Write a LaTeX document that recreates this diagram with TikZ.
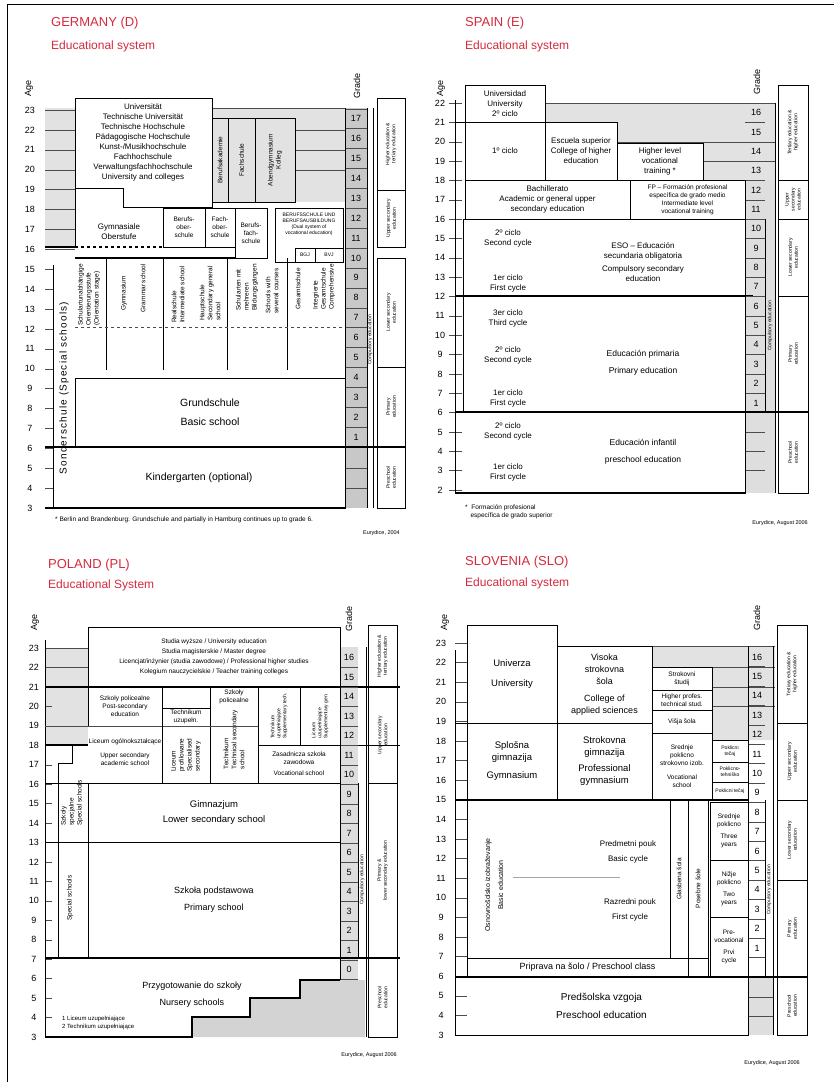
\documentclass[tikz,border=0pt]{standalone}
\usepackage{fontspec}
\setmainfont{Liberation Sans}
\usetikzlibrary{calc}
\definecolor{titlered}{RGB}{214,42,62}
\definecolor{bandgray}{RGB}{226,226,226}
\definecolor{gradegray}{RGB}{200,200,200}
% box with centred text: [style]{name}{x1}{y1}{x2}{y2}{text}
\newcommand{\edubox}[7][txtmid]{\draw[boxline] (#3,#4) rectangle (#5,#6);
  \node[#1] (#2) at ({(#3+#5)/2},{(#4+#6)/2}) {#7};}

\begin{document}
\begin{tikzpicture}[x=1pt, y=-1pt,
  boxline/.style={line width=0.7pt},
  thickline/.style={line width=1.4pt},
  gridline/.style={line width=0.4pt, black!70},
  ctitle/.style={anchor=west, text=titlered, font=\fontsize{13}{15}\selectfont, inner sep=0pt},
  csub/.style={anchor=west, text=titlered, font=\fontsize{12}{14}\selectfont, inner sep=0pt},
  agehead/.style={rotate=90, font=\fontsize{9}{10}\selectfont, inner sep=0pt},
  agenum/.style={font=\fontsize{9}{10}\selectfont, inner sep=0pt},
  txtbig/.style={font=\fontsize{10.5}{19}\selectfont, align=center, inner sep=0pt},
  txtmid/.style={font=\fontsize{8}{10}\selectfont, align=center, inner sep=0pt},
  txtsmall/.style={font=\fontsize{6.5}{8}\selectfont, align=center, inner sep=0pt},
  txttiny/.style={font=\fontsize{5}{6}\selectfont, align=center, inner sep=0pt},
  vsmall/.style={txtsmall, rotate=90},
  vtiny/.style={txttiny, rotate=90},
  note/.style={font=\fontsize{6.5}{8}\selectfont, anchor=west, align=left, inner sep=0pt},
  src/.style={font=\fontsize{5.5}{6}\selectfont, anchor=east, inner sep=0pt}]
  \useasboundingbox (0,0) rectangle (834,1082);
  \fill[white] (0,0) rectangle (834,1082);
  \draw[boxline] (7,1082) -- (7,4) -- (834,4);

  % ================= GERMANY (D) =================
  \node[ctitle] (de-title) at (51,23) {GERMANY (D)};
  \node[csub] (de-sub) at (51,46) {Educational system};
  \node[agehead] (de-age) at (29,88) {Age};
  \fill[bandgray] (45,108) rectangle (75,247);
  \fill[bandgray] (212,108) rectangle (345,202);
  \fill[gradegray] (345,108) rectangle (367,508);
  \foreach \a in {3,...,23}
    \node[agenum] (de-a\a) at (30,{508-(\a-3)*19.9}) {\a};
  \foreach \a in {16,...,23}
    \draw[gridline] (45,{508-(\a-3)*19.9}) -- (75,{508-(\a-3)*19.9});
  \foreach \a in {4,...,15}
    \draw[gridline] (45,{508-(\a-3)*19.9}) -- (53,{508-(\a-3)*19.9});
  \foreach \a in {20,21,22}
    \draw[gridline] (295,{508-(\a-3)*19.9}) -- (345,{508-(\a-3)*19.9});
  \draw[gridline] (212,108) -- (345,108);
  % tertiary
  \draw[boxline] (75,98) -- (212,98) -- (212,207) -- (123,207) -- (123,188) -- (75,188) -- cycle;
  \node[txtmid] (de-uni) at (143,142) {Universität\\Technische Universität\\Technische Hochschule\\Pädagogische Hochschule\\Kunst-/Musikhochschule\\Fachhochschule\\Verwaltungsfachhochschule\\University and colleges};
  \edubox[vsmall]{de-ba}{212}{118}{228}{202}{Berufsakademie}
  \edubox[vsmall]{de-fs}{228}{118}{255}{202}{Fachschule}
  \edubox[vsmall]{de-ag}{255}{118}{295}{202}{Abendgymnasium\\Kolleg}
  % upper secondary
  \draw[boxline] (75,188) -- (75,247);
  \node[txtmid] (de-go) at (119,232) {Gymnasiale\\Oberstufe};
  \edubox[txtsmall]{de-bos}{163}{208}{205}{247}{Berufs-\\ober-\\schule}
  \edubox[txtsmall]{de-fos}{205}{208}{235}{247}{Fach-\\ober-\\schule}
  \edubox[txtsmall]{de-bfs}{235}{208}{267}{258}{Berufs-\\fach-\\schule}
  \edubox[txttiny]{de-dual}{275}{208}{343}{262}{}
  \node[txttiny] (de-dual-t) at (309,224) {BERUFSSCHULE UND\\BERUFSAUSBILDUNG\\(Dual system of\\vocational education)};
  \edubox[txttiny]{de-bgj}{295}{248}{315}{262}{BGJ}
  \edubox[txttiny]{de-bvj}{315}{248}{343}{262}{BVJ}
  \draw[thickline] (45,247) -- (75,247);
  \draw[thickline, dashed] (75,247) -- (163,247);
  \draw[thickline] (75,258) -- (235,258);
  % lower secondary
  \foreach \x in {106,163,227,287}
    \draw[boxline] (\x,258) -- (\x,370);
  \draw[gridline, dashed] (75,327) -- (345,327);
  \node[vsmall, anchor=east, align=left] (de-os) at (89,264) {Schulartunabhängige\\Orientierungsstufe\\(Orientation stage)};
  \node[vsmall, anchor=east] (de-gy1) at (124,276) {Gymnasium};
  \node[vsmall, anchor=east] (de-gy2) at (143,264) {Grammar school};
  \node[vsmall, anchor=east, align=left] (de-rs) at (178,266) {Realschule\\Intermediate school};
  \node[vsmall, anchor=east, align=left] (de-hs) at (210,266) {Hauptschule\\Secondary general\\school};
  \node[vsmall, anchor=east, align=left] (de-sm) at (247,264) {Schularten mit\\mehreren\\Bildungsgängen};
  \node[vsmall, anchor=east, align=left] (de-sw) at (272,268) {Schools with\\several courses};
  \node[vsmall, anchor=east] (de-ge1) at (298,268) {Gesamtschule};
  \node[vsmall, anchor=east, align=left] (de-ge2) at (324,264) {Integrierte\\Gesamtschule\\Comprehensive};
  % special schools
  \draw[boxline] (53,265) -- (53,508);
  \node[vsmall, font=\fontsize{10}{12}\selectfont\addfontfeatures{LetterSpace=12}] (de-sond) at (64,388) {Sonderschule (Special schools)};
  % primary and pre-school
  \edubox[txtbig]{de-gs}{75}{378}{345}{447}{Grundschule\\Basic school}
  \edubox[txtbig]{de-kg}{53}{447}{345}{508}{Kindergarten (optional)}
  \draw[thickline] (45,447) -- (406,447);
  \draw[thickline] (45,508) -- (345,508);
  % grades
  \foreach \g in {1,...,17}{
    \draw[gridline] (345,{447-\g*19.9}) -- (367,{447-\g*19.9});
    \node[agenum] (de-g\g) at (356,{447-(\g-0.5)*19.9}) {\g};}
  \draw[gridline] (345,468) -- (367,468) (345,488) -- (367,488);
  \draw[boxline] (345,108) -- (345,508) (367,108) -- (367,508) (373,108) -- (373,508);
  \node[vtiny] (de-comp) at (370,340) {Compulsory education};
  \node[agehead] (de-grade) at (357,86) {Grade};
  % levels
  \edubox[vtiny]{de-l1}{377}{98}{405}{190}{Higher education \&\\tertiary education}
  \edubox[vtiny]{de-l2}{377}{190}{405}{247}{Upper secondary\\education}
  \edubox[vtiny]{de-l3}{377}{258}{405}{367}{Lower secondary\\education}
  \edubox[vtiny]{de-l4}{377}{367}{405}{447}{Primary\\education}
  \edubox[vtiny]{de-l5}{377}{447}{405}{508}{Preschool\\education}
  \node[note] (de-note) at (55,520) {* Berlin and Brandenburg: Grundschule and partially in Hamburg continues up to grade 6.};
  \node[src] (de-src) at (400,533) {Eurydice, 2004};

  % ================= SPAIN (E) =================
  \node[ctitle] (es-title) at (465,23) {SPAIN (E)};
  \node[csub] (es-sub) at (465,46) {Educational system};
  \node[agehead] (es-age) at (441,88) {Age};
  \fill[bandgray] (545,103) rectangle (775,122) (617,122) rectangle (775,143) (703,143) rectangle (775,180);
  \fill[gradegray!60] (745,180) rectangle (775,493);
  \foreach \a in {2,...,22}{
    \node[agenum] (es-a\a) at (440,{103+(22-\a)*19.35}) {\a};
    \draw[gridline] (449,{103+(22-\a)*19.35}) -- (462,{103+(22-\a)*19.35});}
  \draw[boxline] (455,100) -- (455,493);
  \draw[gridline] (545,103) -- (775,103) (617,142) -- (775,142) (703,161) -- (775,161);
  \draw[boxline] (455,122) -- (617,122);
  % tertiary
  \edubox{es-uni}{465}{85}{545}{122}{Universidad\\University\\2º ciclo}
  \edubox{es-uni1}{465}{122}{545}{180}{1º ciclo}
  \edubox{es-esc}{545}{122}{617}{180}{Escuela superior\\College of higher\\education}
  \edubox{es-fps}{617}{143}{703}{180}{Higher level\\vocational\\training *}
  % upper secondary
  \edubox{es-bach}{465}{180}{630}{219}{Bachillerato\\Academic or general upper\\secondary education}
  \edubox[txtsmall]{es-fpm}{630}{180}{745}{219}{FP -- Formación profesional\\específica de grado medio\\Intermediate level\\vocational training}
  % compulsory secondary, primary, infant
  \edubox{es-eso}{463}{219}{745}{296}{}
  \node[txtmid] (es-eso-t) at (643,262) {ESO -- Educación\\secundaria obligatoria\\[3pt]Compulsory secondary\\education};
  \node[txtmid] (es-eso2) at (508,238) {2º ciclo\\Second cycle};
  \node[txtmid] (es-eso1) at (508,283) {1er ciclo\\First cycle};
  \edubox{es-pri}{463}{296}{745}{412}{}
  \node[txtbig, font=\fontsize{8.5}{17}\selectfont] (es-pri-t) at (643,363) {Educación primaria\\Primary education};
  \node[txtmid] (es-pri3) at (508,318) {3er ciclo\\Third cycle};
  \node[txtmid] (es-pri2) at (508,355) {2º ciclo\\Second cycle};
  \node[txtmid] (es-pri1) at (508,398) {1er ciclo\\First cycle};
  \edubox{es-inf}{455}{412}{745}{493}{}
  \node[txtbig, font=\fontsize{8.5}{17}\selectfont] (es-inf-t) at (643,452) {Educación infantil\\preschool education};
  \node[txtmid] (es-inf2) at (508,431) {2º ciclo\\Second cycle};
  \node[txtmid] (es-inf1) at (508,472) {1er ciclo\\First cycle};
  \draw[thickline] (455,296) -- (753,296) (455,412) -- (808,412) (455,493) -- (745,493);
  % grades
  \foreach \g in {1,...,16}{
    \draw[gridline] (745,{103+(16-\g)*19.35}) -- (765,{103+(16-\g)*19.35});
    \node[agenum] (es-g\g) at (756,{103+(16.5-\g)*19.35}) {\g};}
  \draw[gridline] (745,432) -- (765,432) (745,451) -- (765,451) (745,470) -- (765,470);
  \draw[boxline] (745,180) -- (745,493) (775,103) -- (775,493) (765,219) -- (765,412);
  \node[vtiny] (es-comp) at (770,326) {Compulsory education};
  \node[agehead] (es-grade) at (757,82) {Grade};
  % levels
  \edubox[vtiny]{es-l1}{778}{85}{808}{180}{Tertiary education \&\\higher education}
  \edubox[vtiny]{es-l2}{778}{180}{808}{219}{Upper\\secondary\\education}
  \edubox[vtiny]{es-l3}{778}{219}{808}{296}{Lower secondary\\education}
  \edubox[vtiny]{es-l4}{778}{296}{808}{412}{Primary\\education}
  \edubox[vtiny]{es-l5}{778}{412}{808}{493}{Preschool\\education}
  \node[note] (es-note) at (465,512) {*\ \ Formación profesional\\\ \ \ específica de grado superior};
  \node[src] (es-src) at (808,523) {Eurydice, August 2006};

  % ================= POLAND (PL) =================
  \node[ctitle] (pl-title) at (48,565) {POLAND (PL)};
  \node[csub] (pl-sub) at (48,585) {Educational System};
  \node[agehead] (pl-age) at (35,622) {Age};
  \fill[bandgray] (45,648) rectangle (88,745);
  \fill[gradegray!60] (340,647) rectangle (358,979);
  \foreach \a in {3,...,23}{
    \node[agenum] (pl-a\a) at (34,{1037-(\a-3)*19.45}) {\a};
    \draw[gridline] (45,{1037-(\a-3)*19.45}) -- (52,{1037-(\a-3)*19.45});}
  \foreach \a in {22,23,19}
    \draw[gridline] (45,{1037-(\a-3)*19.45}) -- (88,{1037-(\a-3)*19.45});
  \draw[boxline] (45,640) -- (45,1037);
  % tertiary
  \edubox[txtsmall]{pl-uni}{88}{627}{340}{687}{Studia wyższe / University education\\[2pt]Studia magisterskie / Master degree\\[2pt]Licencjat/inżynier (studia zawodowe) / Professional higher studies\\[2pt]Kolegium nauczycielskie / Teacher training colleges}
  \draw[thickline] (45,687) -- (400,687);
  % post-secondary
  \edubox[txtsmall]{pl-pol}{88}{687}{162}{726}{Szkoły policealne\\Post-secondary\\education}
  \edubox[txtsmall]{pl-tu}{162}{708}{210}{726}{Technikum\\uzupełn.}
  \draw[boxline] (210,687) -- (210,783) (258,687) -- (258,783) (300,687) -- (300,745);
  \node[txtsmall] (pl-sp) at (234,697) {Szkoły\\policealne};
  \node[vsmall, anchor=east, align=left] (pl-tech) at (234,710) {Technikum\\Technical secondary\\school};
  \node[vtiny, align=left] (pl-tu2) at (279,716) {Technikum\\uzupełniające\\Supplementary tech.};
  \node[vtiny, align=left] (pl-lu) at (320,716) {Liceum\\uzupełniające\\Supplementary gen.};
  % upper secondary
  \draw[gridline] (45,726) -- (258,726);
  \node[txtsmall] (pl-lo) at (125,752) {Liceum ogólnokształcące\\[6pt]Upper secondary\\academic school};
  \node[vsmall, align=left] (pl-lp) at (186,755) {Liceum\\profilowane\\Specialised\\secondary};
  \draw[boxline] (162,726) -- (162,783);
  \edubox[txtsmall]{pl-zsz}{258}{745}{340}{783}{Zasadnicza szkoła\\zawodowa\\[3pt]Vocational school}
  \draw[thickline] (45,745) -- (88,745);
  \draw[boxline] (258,745) -- (400,745);
  % special schools
  \draw[boxline] (72,745) -- (72,763) -- (58,763) -- (58,958);
  \node[vsmall, align=left] (pl-ss1) at (72,803) {Szkoły\\specjalne\\Special schools};
  \node[vsmall] (pl-ss2) at (70,898) {Special schools};
  % gimnazjum and primary
  \edubox[txtbig, font=\fontsize{9.5}{15}\selectfont]{pl-gim}{88}{783}{340}{842}{Gimnazjum\\Lower secondary school}
  \edubox[txtbig, font=\fontsize{9}{17}\selectfont]{pl-sp2}{88}{842}{340}{958}{Szkoła podstawowa\\Primary school}
  \draw[boxline] (45,783) -- (88,783) (45,842) -- (88,842);
  \draw[thickline] (45,958) -- (400,958);
  % pre-school steps
  \fill[gradegray!80] (192,1037) -- (192,1017) -- (250,1017) -- (250,998) -- (300,998) -- (300,980) -- (365,980) -- (365,1037) -- cycle;
  \draw[thickline] (45,1037) -- (192,1037) -- (192,1017) -- (250,1017) -- (250,998) -- (300,998) -- (300,980) -- (340,980);
  \node[txtbig, font=\fontsize{9}{17}\selectfont] (pl-pre) at (192,995) {Przygotowanie do szkoły\\Nursery schools};
  \node[note, font=\fontsize{6}{7.5}\selectfont] (pl-key) at (62,1023) {1 Liceum uzupełniające\\2 Technikum uzupełniające};
  % grades
  \foreach \g in {0,...,16}{
    \draw[gridline] (340,{979.5-\g*19.5}) -- (358,{979.5-\g*19.5});
    \node[agenum] (pl-g\g) at (349,{969.75-\g*19.5}) {\g};}
  \draw[boxline] (340,647) -- (340,980) (358,783) -- (358,958) (366,647) -- (366,1037);
  \node[vtiny] (pl-comp) at (362,880) {Compulsory education};
  \node[agehead] (pl-grade) at (349,619) {Grade};
  % levels
  \edubox[vtiny]{pl-l1}{368}{625}{397}{687}{Higher education \&\\tertiary education}
  \edubox[vtiny]{pl-l2}{368}{687}{397}{783}{Upper secondary\\education}
  \edubox[vtiny]{pl-l3}{368}{783}{397}{958}{Primary \&\\lower secondary education}
  \edubox[vtiny]{pl-l4}{368}{958}{397}{1037}{Preschool\\education}
  \node[src] (pl-src) at (397,1055) {Eurydice, August 2006};

  % ================= SLOVENIA (SLO) =================
  \node[ctitle] (si-title) at (465,562) {SLOVENIA (SLO)};
  \node[csub] (si-sub) at (465,583) {Educational system};
  \node[agehead] (si-age) at (445,622) {Age};
  \fill[bandgray] (652,646) rectangle (775,667) (712,667) rectangle (775,740);
  \fill[gradegray!60] (748,977) rectangle (773,1035);
  \foreach \a in {3,...,23}{
    \node[agenum] (si-a\a) at (441,{1035-(\a-3)*19.6}) {\a};
    \draw[gridline] (455,{1035-(\a-3)*19.6}) -- (467,{1035-(\a-3)*19.6});}
  \draw[boxline] (455,650) -- (455,1035);
  \draw[gridline] (652,646) -- (775,646) (712,667) -- (775,667) (712,687) -- (775,687) (712,706) -- (775,706);
  % tertiary
  \edubox[txtbig, font=\fontsize{9.5}{20}\selectfont]{si-uni}{467}{625}{557}{723}{Univerza\\University}
  \edubox[txtbig, font=\fontsize{9}{12}\selectfont]{si-vss}{557}{646}{652}{723}{Visoka\\strokovna\\šola\\[5pt]College of\\applied sciences}
  \edubox[txtsmall]{si-st}{652}{667}{712}{690}{Strokovni\\študij}
  \edubox[txtsmall]{si-hp}{652}{690}{712}{710}{Higher profes.\\technical stud.}
  \edubox[txtsmall]{si-vs}{652}{710}{712}{733}{Višja šola}
  % upper secondary
  \edubox[txtbig, font=\fontsize{9.5}{12}\selectfont]{si-sg}{467}{723}{557}{800}{Splošna\\gimnazija\\[6pt]Gymnasium}
  \edubox[txtbig, font=\fontsize{9.5}{12}\selectfont]{si-pg}{557}{723}{652}{800}{Strokovna\\gimnazija\\[4pt]Professional\\gymnasium}
  \edubox[txtsmall]{si-sp}{652}{733}{712}{800}{Srednje\\poklicno\\strokovno izob.\\[6pt]Vocational\\school}
  \edubox[txttiny]{si-pt}{712}{740}{748}{762}{Poklicni\\tečaj}
  \edubox[txttiny]{si-ptl}{712}{762}{748}{782}{Poklicno-\\tehniško}
  \edubox[txttiny]{si-pk}{712}{782}{748}{800}{Poklicni tečaj}
  \draw[boxline] (455,723) -- (652,723);
  \draw[thickline] (455,800) -- (748,800);
  % basic school
  \edubox{si-os}{467}{800}{670}{958}{}
  \node[vsmall, font=\fontsize{7}{13}\selectfont] (si-os-t) at (494,885) {Osnovnošolsko izobraževanje\\Basic education};
  \node[txtmid, font=\fontsize{8}{15}\selectfont] (si-pp) at (628,852) {Predmetni pouk\\Basic cycle};
  \node[txtmid, font=\fontsize{8}{15}\selectfont] (si-rp) at (630,910) {Razredni pouk\\First cycle};
  \draw[gridline, black!35] (513,877) -- (620,877);
  \edubox[vsmall]{si-gl}{670}{800}{688}{958}{Glasbena šola}
  \edubox[vsmall]{si-ps}{688}{800}{708}{977}{Posebne šole}
  \edubox[txtsmall]{si-sp3}{710}{802}{748}{860}{Srednje\\poklicno\\[4pt]Three\\years}
  \edubox[txtsmall]{si-np}{710}{860}{748}{917}{Nižje\\poklicno\\[4pt]Two\\years}
  \edubox[txtsmall]{si-pv}{710}{917}{748}{977}{Pre-\\vocational\\[4pt]Prvi\\cycle}
  % pre-school
  \edubox[txtmid, font=\fontsize{9}{10}\selectfont]{si-prip}{467}{958}{708}{977}{Priprava na šolo / Preschool class}
  \edubox[txtbig, font=\fontsize{10}{18}\selectfont]{si-pre}{455}{977}{748}{1035}{Predšolska vzgoja\\Preschool education}
  \draw[thickline] (455,977) -- (808,977);
  % grades
  \foreach \g in {1,...,16}{
    \draw[gridline] (748,{977-\g*19.4}) -- (765,{977-\g*19.4});
    \node[agenum] (si-g\g) at (757,{967.3-\g*19.4}) {\g};}
  \draw[gridline] (748,997) -- (773,997) (748,1016) -- (773,1016);
  \draw[boxline] (748,646) -- (748,1035) (773,646) -- (773,1035) (765,800) -- (765,977);
  \node[vtiny] (si-comp) at (769,890) {Compulsory education};
  \node[agehead] (si-grade) at (757,618) {Grade};
  % levels
  \edubox[vtiny]{si-l1}{777}{625}{807}{723}{Tertiary education \&\\higher education}
  \edubox[vtiny]{si-l2}{777}{723}{807}{800}{Upper secondary\\education}
  \edubox[vtiny]{si-l3}{777}{800}{807}{880}{Lower secondary\\education}
  \edubox[vtiny]{si-l4}{777}{880}{807}{977}{Primary\\education}
  \edubox[vtiny]{si-l5}{777}{977}{807}{1035}{Preschool\\education}
  \node[src] (si-src) at (800,1063) {Eurydice, August 2006};
\end{tikzpicture}
\end{document}
